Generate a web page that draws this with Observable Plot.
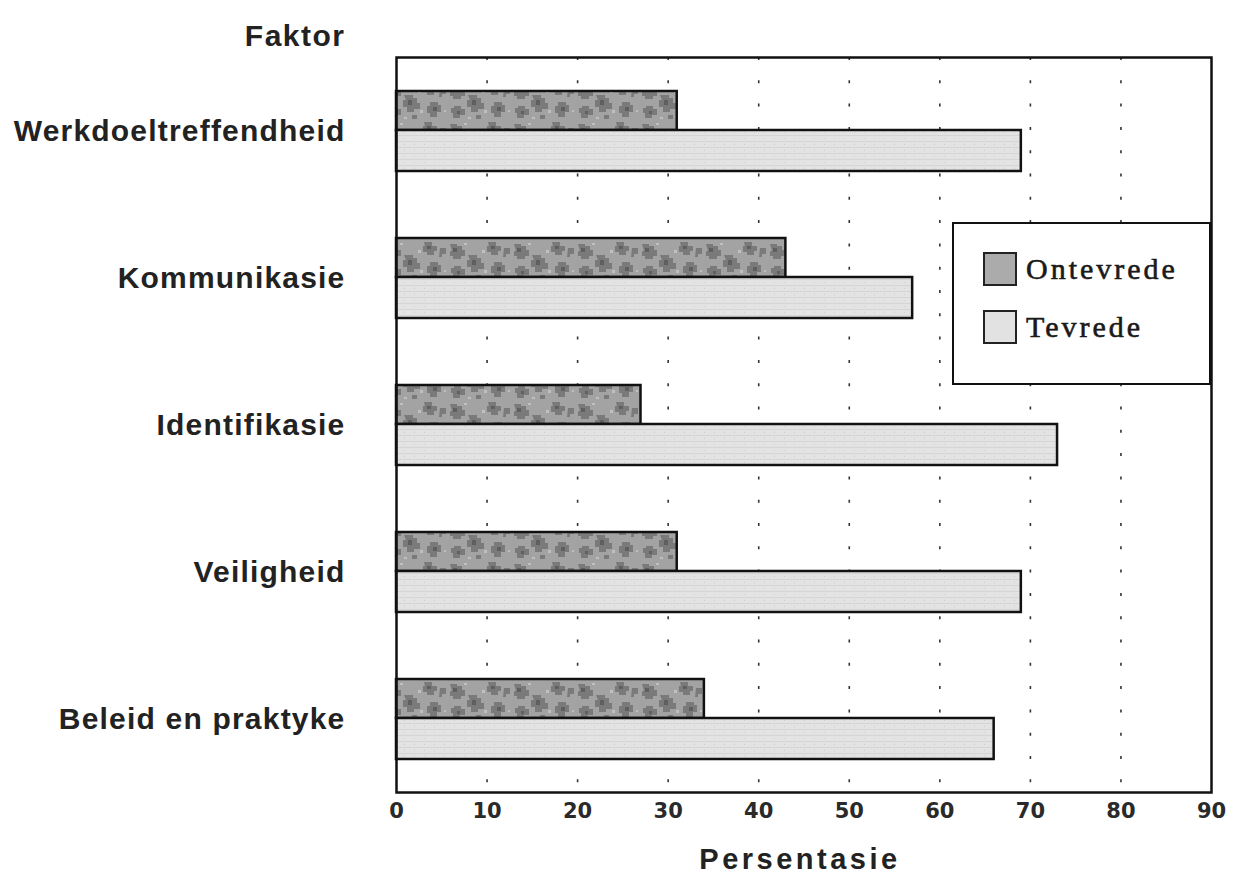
<!DOCTYPE html>
<html>
<head>
<meta charset="utf-8">
<script src="https://cdn.jsdelivr.net/npm/d3@7"></script>
<script src="https://cdn.jsdelivr.net/npm/@observablehq/plot@0.6"></script>
<style>
  html, body { margin: 0; padding: 0; background: #fff; }
  #chart { position: relative; width: 1236px; height: 882px; }
  #chart svg { position: absolute; left: 0; top: 0; }
  .legend {
    position: absolute; left: 952px; top: 222px; width: 255px; height: 159px;
    border: 2.5px solid #111; background: #fff;
    font-family: "Liberation Serif", "Times New Roman", serif; font-size: 30px;
    letter-spacing: 3px; color: #1a1a1a; -webkit-text-stroke: 0.6px #1a1a1a;
  }
  .legend .item { position: absolute; left: 29px; height: 34px; display: flex; align-items: center; }
  .legend .swatch { width: 30px; height: 30px; border: 2px solid #222; margin-right: 9px; }
</style>
</head>
<body>
<div id="chart"></div>
<script>
// Faktore en persentasies ontevrede / tevrede
const categories = ["Werkdoeltreffendheid", "Kommunikasie", "Identifikasie", "Veiligheid", "Beleid en praktyke"];
const ontevrede = [31, 43, 27, 31, 34];
const tevrede = [69, 57, 73, 69, 66];
const seriesNames = ["Ontevrede", "Tevrede"];
const xTicks = [0, 10, 20, 30, 40, 50, 60, 70, 80, 90];
const gridTicks = [10, 20, 30, 40, 50, 60, 70, 80];

const rows = categories.map((faktor, i) => ({faktor, ontevrede: ontevrede[i], tevrede: tevrede[i]}));

const chart = Plot.plot({
  width: 1236,
  height: 882,
  marginTop: 57,
  marginBottom: 90,
  marginLeft: 396,
  marginRight: 25,
  style: {background: "#fff", color: "#1a1a1a"},
  x: {domain: [0, 90], label: null},
  y: {domain: categories, padding: 0, label: null},
  marks: [
    Plot.ruleX(gridTicks, {stroke: "#333", strokeWidth: 1.6, strokeDasharray: "3,20.3"}),
    Plot.barX(rows, {y: "faktor", x: "ontevrede", fill: "url(#ontevrede-fill)", stroke: "#111", strokeWidth: 2.5, insetTop: 34, insetBottom: 74}),
    Plot.barX(rows, {y: "faktor", x: "tevrede", fill: "url(#tevrede-fill)", stroke: "#111", strokeWidth: 2.5, insetTop: 73, insetBottom: 33}),
    Plot.frame({stroke: "#111", strokeWidth: 2.5}),
    Plot.axisX(xTicks, {tickSize: 0, tickPadding: 11, fontSize: 21, fontFamily: "DejaVu Sans", fontWeight: "bold", fill: "#2a2a2a", label: null}),
    Plot.axisY({tickSize: 0, tickPadding: 51, fontSize: 30, fontFamily: "Liberation Sans", fontWeight: "bold", fill: "#222", label: null}),
    Plot.text(["Faktor"], {text: d => d, frameAnchor: "top-left", textAnchor: "end", dx: -51, dy: -33, fontSize: 30, fontFamily: "Liberation Sans", fontWeight: "bold", fill: "#222"}),
    Plot.text(["Persentasie"], {text: d => d, frameAnchor: "bottom", dx: -4, dy: 76, fontSize: 29, fontFamily: "Liberation Sans", fontWeight: "bold", fill: "#222"})
  ]
});

// Letter spacing of the titles and category labels
const svg = d3.select(chart);
svg.selectAll("text").each(function () {
  const t = this.textContent;
  if (t === "Persentasie") this.style.letterSpacing = "3.5px";
  else if (t === "Faktor") this.style.letterSpacing = "1.5px";
  else if (categories.includes(t)) this.style.letterSpacing = "1.2px";
});

// Bar fill textures
const defs = d3.create("svg:defs");
const p1 = defs.append("pattern").attr("id", "ontevrede-fill").attr("patternUnits", "userSpaceOnUse").attr("width", 64).attr("height", 40);
p1.append("rect").attr("width", 64).attr("height", 40).attr("fill", "#a3a3a3");
p1.append("path").attr("fill", "#7a7a7a").attr("d",
  "M2 4h7v2h5v4h3v6h-4v3h-8v-3h-3v-5h2z M20 15h9v3h4v5h3v6h-6v3h-7v-5h-4v-7h3z M40 2h8v4h5v5h-3v4h-7v-3h-4v-6h2z M6 26h7v3h4v6h-5v3h-7v-5h-2v-5h3z M46 22h8v3h3v7h-4v5h-7v-4h-3v-7h3z M56 8h6v6h-4v3h-3z M28 35h5v4h-5z");
p1.append("path").attr("fill", "#5f5f5f").attr("d",
  "M5 8h4v4h-4z M24 20h4v5h-4z M43 6h4v3h-4z M49 27h4v4h-4z M9 31h3v3h-3z");
p1.append("path").attr("fill", "#c0c0c0").attr("d",
  "M16 3h3v2h-3z M34 10h3v3h-3z M36 30h3v3h-3z M60 30h2v2h-2z M20 37h3v2h-3z");
const p2 = defs.append("pattern").attr("id", "tevrede-fill").attr("patternUnits", "userSpaceOnUse").attr("width", 10).attr("height", 6);
p2.append("rect").attr("width", 10).attr("height", 6).attr("fill", "#e3e3e3");
p2.append("rect").attr("y", 3).attr("width", 10).attr("height", 1).attr("fill", "#d5d5d5");
p2.append("rect").attr("x", 4).attr("y", 0).attr("width", 1).attr("height", 1).attr("fill", "#cfcfcf");
chart.insertBefore(defs.node(), chart.firstChild);

const root = document.getElementById("chart");
root.appendChild(chart);

// Legend
const legend = document.createElement("div");
legend.className = "legend";
const swatchFills = ["#ababab", "#e2e2e2"];
seriesNames.forEach((name, i) => {
  const item = document.createElement("div");
  item.className = "item";
  item.style.top = (28 + i * 58) + "px";
  const sw = document.createElement("div");
  sw.className = "swatch";
  sw.style.background = swatchFills[i];
  const label = document.createElement("span");
  label.textContent = name;
  item.appendChild(sw);
  item.appendChild(label);
  legend.appendChild(item);
});
root.appendChild(legend);
</script>
</body>
</html>
